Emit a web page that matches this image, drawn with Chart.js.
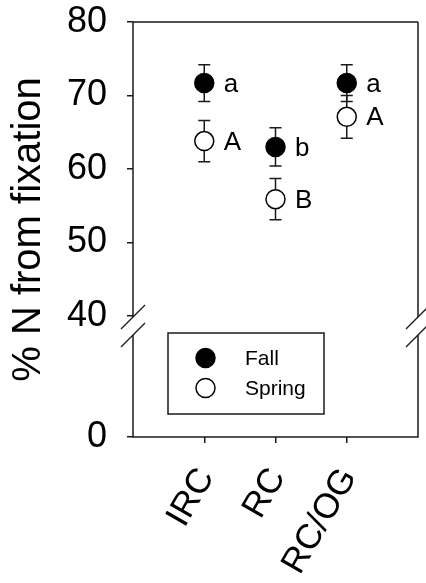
<!DOCTYPE html>
<html>
<head>
<meta charset="utf-8">
<style>
html,body{margin:0;padding:0;background:#fff;}
#wrap{width:426px;height:583px;}
canvas{display:block;}
</style>
<script src="https://cdn.jsdelivr.net/npm/chart.js@4.4.1/dist/chart.umd.min.js"></script>
</head>
<body>
<div id="wrap"><canvas id="c" width="426" height="583"></canvas></div>
<script>
// ---- data ----
const categories = ['IRC', 'RC', 'RC/OG'];
const fallMean = [71.7, 63.0, 71.7];
const fallErr = [2.5, 2.6, 2.5];
const springMean = [63.8, 55.9, 67.1];
const springErr = [2.8, 2.8, 2.9];
const fallLetters = ['a', 'b', 'a'];
const springLetters = ['A', 'B', 'A'];
const yTickLabels = [0, 40, 50, 60, 70, 80];
const seriesNames = ['Fall', 'Spring'];
const yAxisTitle = '% N from fixation';

// ---- styling / layout ----
const FONT = '"Liberation Sans", Arial, Helvetica, sans-serif';
const INK = '#1a1a1a';
const BREAK_AT = 40;          // axis is broken below this value
const LOWER_SPAN = 16.46;     // display units given to the 0..break segment
const Y_MIN_DISPLAY = BREAK_AT - LOWER_SPAN;
function toDisplay(v) { return v < BREAK_AT ? Y_MIN_DISPLAY + v : v; }

const errAndDecor = {
  id: 'errAndDecor',
  beforeDatasetsDraw(chart) {
    const ctx = chart.ctx;
    const xs = chart.scales.x, ys = chart.scales.y;
    const {left: L, right: R, top: T, bottom: B} = chart.chartArea;
    ctx.save();
    ctx.strokeStyle = INK;
    ctx.lineWidth = 1.5;
    // frame with axis break
    const gapTop = ys.getPixelForValue(BREAK_AT) + 1;
    const gapBot = gapTop + 18;
    ctx.beginPath();
    ctx.moveTo(L, T); ctx.lineTo(R, T);
    ctx.moveTo(L - 0.75, B); ctx.lineTo(R + 0.75, B);
    [L, R].forEach(x => {
      ctx.moveTo(x, T); ctx.lineTo(x, gapTop);
      ctx.moveTo(x, gapBot); ctx.lineTo(x, B);
    });
    ctx.stroke();
    ctx.lineWidth = 1.3;
    ctx.beginPath();
    [L, R].forEach(x => {
      [gapTop, gapBot].forEach(y => {
        ctx.moveTo(x - 12, y + 12); ctx.lineTo(x + 12, y - 12);
      });
    });
    ctx.stroke();
    // error bars
    ctx.lineWidth = 1.5;
    const sets = [[fallMean, fallErr], [springMean, springErr]];
    sets.forEach(([m, e]) => {
      m.forEach((v, i) => {
        const x = xs.getPixelForValue(i + 1);
        const y1 = ys.getPixelForValue(v + e[i]);
        const y2 = ys.getPixelForValue(v - e[i]);
        ctx.beginPath();
        ctx.moveTo(x, y1); ctx.lineTo(x, y2);
        ctx.moveTo(x - 6, y1); ctx.lineTo(x + 6, y1);
        ctx.moveTo(x - 6, y2); ctx.lineTo(x + 6, y2);
        ctx.stroke();
      });
    });
    ctx.restore();
  },
  afterDatasetsDraw(chart) {
    const ctx = chart.ctx;
    const xs = chart.scales.x, ys = chart.scales.y;
    const {left: L} = chart.chartArea;
    ctx.save();
    // significance letters
    ctx.fillStyle = '#000';
    ctx.font = '26px ' + FONT;
    ctx.textAlign = 'left';
    ctx.textBaseline = 'middle';
    [[fallMean, fallLetters], [springMean, springLetters]].forEach(([m, lt]) => {
      m.forEach((v, i) => {
        const x = xs.getPixelForValue(i + 1);
        const y = ys.getPixelForValue(v);
        ctx.fillText(lt[i], x + 19.5, y + 1.5);
      });
    });
    // legend
    const bx = L + 35, by = ys.getPixelForValue(BREAK_AT) + 17;
    const bw = 156, bh = 81;
    ctx.strokeStyle = INK;
    ctx.lineWidth = 1.5;
    ctx.strokeRect(bx, by, bw, bh);
    ctx.font = '21px ' + FONT;
    chart.data.datasets.forEach((ds, k) => {
      const my = by + 25 + k * 30;
      ctx.beginPath();
      ctx.arc(bx + 37.5, my, 9.5, 0, Math.PI * 2);
      ctx.fillStyle = ds.backgroundColor;
      ctx.fill();
      ctx.lineWidth = 1.5;
      ctx.strokeStyle = ds.borderColor;
      ctx.stroke();
      ctx.fillStyle = '#000';
      ctx.fillText(ds.label, bx + 77, my + 1);
    });
    ctx.restore();
  }
};

function noPad(s) { s.paddingTop = 0; s.paddingBottom = 0; s.paddingLeft = 0; s.paddingRight = 0; }

const chart = new Chart(document.getElementById('c'), {
  type: 'scatter',
  data: {
    datasets: [
      {
        label: seriesNames[0],
        data: fallMean.map((v, i) => ({x: i + 1, y: v})),
        backgroundColor: '#000',
        borderColor: '#000',
        pointRadius: 9.5,
        pointBorderWidth: 1.5
      },
      {
        label: seriesNames[1],
        data: springMean.map((v, i) => ({x: i + 1, y: v})),
        backgroundColor: '#fff',
        borderColor: '#000',
        pointRadius: 9.5,
        pointBorderWidth: 1.5
      }
    ]
  },
  options: {
    responsive: false,
    animation: false,
    layout: {autoPadding: false, padding: {top: 22, right: 8, left: 0, bottom: 0}},
    plugins: {legend: {display: false}, tooltip: {enabled: false}},
    scales: {
      x: {
        type: 'linear',
        min: 0, max: 4,
        afterBuildTicks: s => { s.ticks = categories.map((c, i) => ({value: i + 1})); },
        afterFit: s => { s.height = 146; noPad(s); },
        ticks: {
          callback: (v, i) => categories[i],
          font: {family: FONT, size: 35},
          color: '#000',
          minRotation: 60, maxRotation: 60,
          autoSkip: false,
          padding: 18,
          labelOffset: 2
        },
        grid: {drawOnChartArea: false, drawTicks: true, tickLength: 6, color: INK, lineWidth: 1.5},
        border: {display: false}
      },
      y: {
        type: 'linear',
        min: Y_MIN_DISPLAY, max: 80,
        afterBuildTicks: s => { s.ticks = yTickLabels.map(v => ({value: toDisplay(v)})); },
        afterFit: s => { s.width = 133; noPad(s); },
        ticks: {
          callback: (v, i) => String(yTickLabels[i]),
          font: {family: FONT, size: 36},
          color: '#000',
          padding: 20
        },
        grid: {drawOnChartArea: false, drawTicks: true, tickLength: 6, color: INK, lineWidth: 1.5},
        border: {display: false},
        title: {
          display: true,
          text: yAxisTitle,
          font: {family: FONT, size: 40},
          color: '#000',
          padding: {top: 5, bottom: 0}
        }
      }
    }
  },
  plugins: [errAndDecor]
});
</script>
</body>
</html>
